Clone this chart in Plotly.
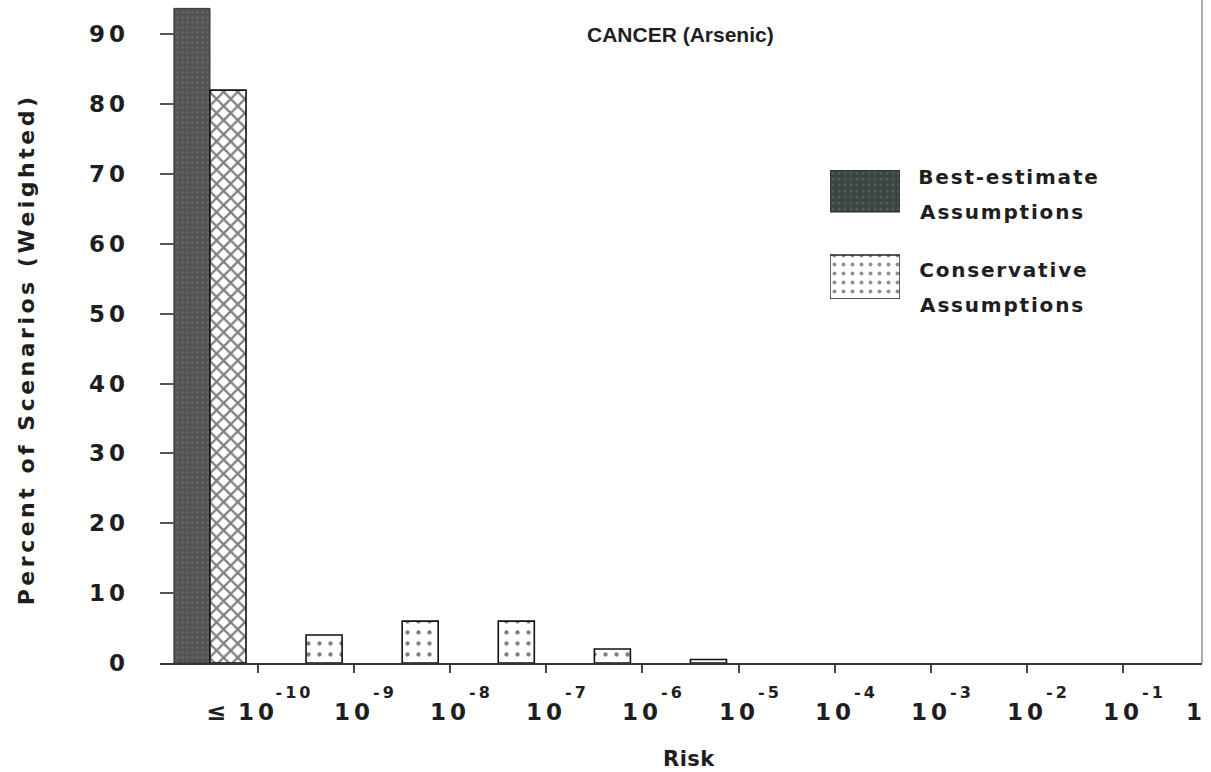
import plotly.graph_objects as go

# ---------------- data ----------------
bin_upper_exp = [-10, -9, -8, -7, -6, -5, -4, -3, -2, -1]   # upper edge of each risk bin (log10)
best_estimate = [93.7, 0, 0, 0, 0, 0, 0, 0, 0, 0]
conservative = [82.0, 4.0, 6.0, 6.0, 2.0, 0.5, 0, 0, 0, 0]
tick_exponents = [-10, -9, -8, -7, -6, -5, -4, -3, -2, -1]
last_tick_label = "1"
y_ticks = [0, 10, 20, 30, 40, 50, 60, 70, 80, 90]
series_names = ["Best-estimate Assumptions", "Conservative Assumptions"]
title_text = "CANCER (Arsenic)"
x_title = "Risk"
y_title = "Percent of Scenarios (Weighted)"

# ---------------- layout geometry ----------------
W, H = 1211, 772
ML, MR, MT, MB = 160, 9, 0, 109
PW = W - ML - MR
PH = H - MT - MB
X_MIN, X_MAX = -11.02, -0.177
Y_MAX = 94.9


def px_x(px):
    return (px - ML) / PW


def px_y(py):
    return (MT + PH - py) / PH


def visible(vals):
    return [v if v > 0 else None for v in vals]


FONT = "DejaVu Sans"
TXT = "#1e1e1e"
centers = [e - 0.5 for e in bin_upper_exp]
n_rest = len(conservative) - 1

fig = go.Figure()
fig.add_trace(go.Bar(
    x=centers, y=visible(best_estimate), name=series_names[0], showlegend=False,
    marker=dict(color="#525352", line=dict(color="#2e2e2e", width=1),
                pattern=dict(shape=".", fgcolor="#7a7a7a", size=5, solidity=0.22)),
))
fig.add_trace(go.Bar(
    x=centers, y=visible(conservative), name=series_names[1], showlegend=False,
    marker=dict(color="white", line=dict(color="#111", width=1.6),
                pattern=dict(shape=["x"] + ["."] * n_rest,
                             fgcolor="#000", bgcolor="white",
                             size=[10] + [11] * n_rest,
                             solidity=[0.4] + [0.12] * n_rest)),
))

# legend swatches drawn on an overlay axis
fig.add_trace(go.Bar(
    x=[0], y=[42], base=[170], width=[1], offset=-0.5, showlegend=False,
    xaxis="x2", yaxis="y2", hoverinfo="skip",
    marker=dict(color="#3c443f", line=dict(color="#2a2a2a", width=1),
                pattern=dict(shape=".", fgcolor="#66706a", size=6, solidity=0.2)),
))
fig.add_trace(go.Bar(
    x=[0], y=[44], base=[255], width=[1], offset=-0.5, showlegend=False,
    xaxis="x2", yaxis="y2", hoverinfo="skip",
    marker=dict(color="white", line=dict(color="#222", width=1.4),
                pattern=dict(shape=".", fgcolor="#222", bgcolor="white", size=9, solidity=0.15)),
))

ann = []
# x tick labels: 10^n
for i, e in enumerate(tick_exponents):
    ann.append(dict(x=e, xref="x", y=0, yref="paper", yanchor="top", xanchor="center",
                    yshift=-34, text="10", showarrow=False,
                    font=dict(family=FONT, size=23, color=TXT, weight="bold")))
    ann.append(dict(x=e, xref="x", y=0, yref="paper", yanchor="top", xanchor="left",
                    xshift=20, yshift=-18, text=str(e), showarrow=False,
                    font=dict(family=FONT, size=16, color=TXT, weight="bold")))
ann.append(dict(x=tick_exponents[0], xref="x", y=0, yref="paper", yanchor="top", xanchor="right",
                xshift=-30, yshift=-33, text="≤", showarrow=False,
                font=dict(family=FONT, size=24, color=TXT, weight="bold")))
ann.append(dict(x=1, xref="paper", y=0, yref="paper", yanchor="top", xanchor="center",
                xshift=-6, yshift=-34, text=last_tick_label, showarrow=False,
                font=dict(family=FONT, size=23, color=TXT, weight="bold")))
# titles
ann.append(dict(x=px_x(689), xref="paper", y=px_y(745), yref="paper", yanchor="top",
                xanchor="center", text=x_title, showarrow=False,
                font=dict(family=FONT, size=21, color=TXT, weight="bold")))
ann.append(dict(x=px_x(26), xref="paper", y=px_y(350), yref="paper", yanchor="middle",
                xanchor="center", textangle=-90, text=y_title, showarrow=False,
                font=dict(family=FONT, size=22, color=TXT, weight="bold")))
ann.append(dict(x=px_x(680), xref="paper", y=px_y(34), yref="paper", yanchor="middle",
                xanchor="center", text=title_text, showarrow=False,
                font=dict(family="Liberation Sans", size=21, color=TXT, weight="bold")))
# legend labels (two lines each)
legend_rows = [168, 261]
for name, top in zip(series_names, legend_rows):
    for j, word in enumerate(name.split(" ")):
        ann.append(dict(x=px_x(928), xref="paper", y=px_y(top - 5 + j * 35), yref="paper",
                        yanchor="top", xanchor="left", text=word, showarrow=False,
                        font=dict(family=FONT, size=20, color=TXT, weight="bold")))

fig.update_layout(
    width=W, height=H, margin=dict(l=ML, r=MR, t=MT, b=MB, autoexpand=False),
    paper_bgcolor="white", plot_bgcolor="white",
    barmode="group", bargap=0.25, bargroupgap=0,
    xaxis=dict(range=[X_MIN, X_MAX], showgrid=False, zeroline=False,
               showline=True, linecolor="#333", linewidth=1.6,
               tickvals=tick_exponents, ticktext=[""] * len(tick_exponents),
               ticks="outside", ticklen=8, tickwidth=1.5, tickcolor="#444"),
    yaxis=dict(range=[0, Y_MAX], showgrid=False, zeroline=False, showline=False,
               tickvals=y_ticks, ticks="inside", ticklen=15, tickwidth=1.5, tickcolor="#555",
               ticklabelstandoff=30,
               tickfont=dict(family=FONT, size=23, color=TXT, weight="bold")),
    xaxis2=dict(domain=[px_x(830), px_x(900)], range=[-0.5, 0.5], anchor="y2",
                visible=False, fixedrange=True),
    yaxis2=dict(domain=[px_y(299), px_y(170)], range=[299, 170], anchor="x2",
                visible=False, fixedrange=True),
    shapes=[dict(type="line", xref="paper", yref="paper", x0=1, x1=1, y0=0, y1=1,
                 line=dict(color="#8a8a8a", width=1.4))],
    annotations=ann,
    showlegend=False,
)

post = """
document.body.style.margin = '0';
document.body.style.overflow = 'hidden';
var gd = document.getElementById('{plot_id}');
var map = {'Percent of Scenarios (Weighted)': '3.5px', 'Best-estimate': '1.8px',
           'Assumptions': '1.8px', 'Conservative': '1.8px', 'Risk': '0.5px',
           'CANCER (Arsenic)': '0px'};
gd.querySelectorAll('text').forEach(function(t){
  var s = t.textContent;
  if (map[s] !== undefined) { t.style.letterSpacing = map[s]; }
  else if (/^[0-9]+$/.test(s)) { t.style.letterSpacing = '4px'; }
  else if (/^-[0-9]+$/.test(s)) { t.style.letterSpacing = '3px'; }
});
"""
fig.write_html("out.html", post_script=post, config={"displayModeBar": False})
